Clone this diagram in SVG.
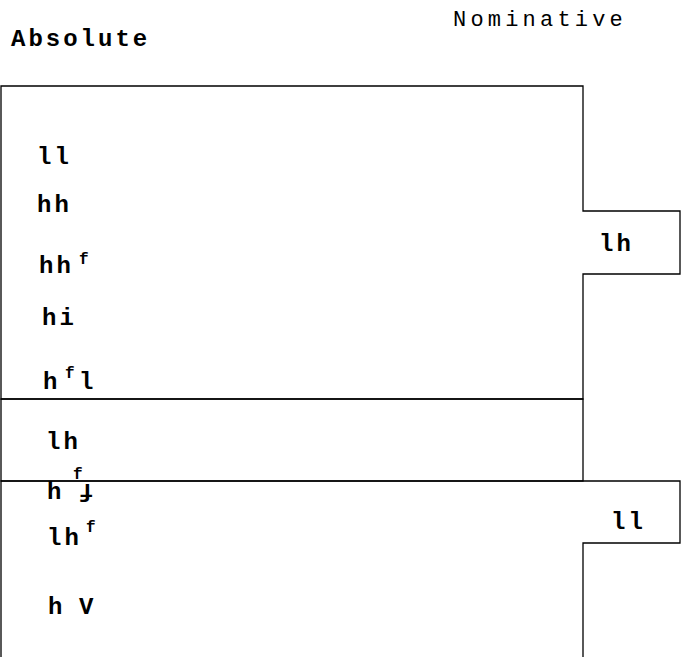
<svg xmlns="http://www.w3.org/2000/svg" width="681" height="657" viewBox="0 0 681 657">
<style>
.box{fill:none;stroke:#000;stroke-width:1.3}
.t{font-family:"Liberation Mono","Courier New",monospace;font-size:24px;fill:#000;letter-spacing:3px}
.n{font-size:22px;letter-spacing:4.2px}
.b{font-weight:bold}
.sup{font-family:"Liberation Mono","Courier New",monospace;font-size:16px;font-weight:bold;fill:#000}
</style>
<rect width="681" height="657" fill="#fff"/>
<g id="titles">
<text class="t b" x="11" y="46">Absolute</text>
<text class="t n" x="453" y="26">Nominative</text>
</g>
<g id="box-top">
<path class="box" d="M1,86 H583 V211 H680 V274 H583 V399 H1 Z"/>
<text class="t b" x="37" y="164">ll</text>
<text class="t b" x="37" y="212">hh</text>
<text class="t b" x="39" y="273">hh</text><text class="sup" x="79" y="264">f</text>
<text class="t b" x="42" y="325">hi</text>
<text class="t b" x="43" y="389">h</text><text class="sup" x="65" y="378">f</text><text class="t b" x="79" y="389">l</text>
<text class="t b" x="599" y="251">lh</text>
</g>
<g id="box-middle">
<rect class="box" x="1" y="399" width="582" height="82"/>
<text class="t b" x="46" y="449">lh</text>
</g>
<g id="box-bottom">
<path class="box" d="M1,700 V481 H680 V543 H583 V700"/>
<text class="t b" x="47" y="499">h</text><text class="sup" x="73" y="479">f</text><text class="t b" x="79" y="497">ɟ</text>
<text class="t b" x="47" y="545">lh</text><text class="sup" x="86" y="532">f</text>
<text class="t b" x="48" y="614">h</text><text class="t b" x="79" y="614">V</text>
<text class="t b" x="611" y="529">ll</text>
</g>
<g id="connectors"/>
</svg>
